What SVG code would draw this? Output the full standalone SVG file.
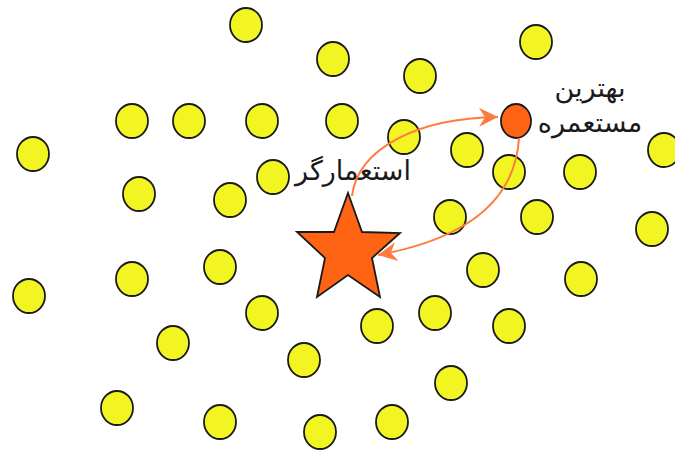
<svg xmlns="http://www.w3.org/2000/svg" width="675" height="450" viewBox="0 0 675 450">
<style>
.c{fill:#f2f522;stroke:#1a1a1a;stroke-width:1.8}
.o{fill:#ff6414;stroke:#1a1a1a;stroke-width:1.8}
.a{fill:none;stroke:#ff7a3d;stroke-width:2}
.t{font-family:"DejaVu Sans",sans-serif;font-size:27px;fill:#1a1a1a;text-anchor:middle}
</style>
<defs>
<marker id="ah" markerUnits="userSpaceOnUse" markerWidth="22" markerHeight="22" viewBox="-20 -11 22 22" refX="0" refY="0" orient="auto">
<path d="M0,0 L-19,-9.5 L-13,0 L-19,9.5 Z" fill="#ff7a3d"/>
</marker>
</defs>
<g id="population">
<ellipse class="c" cx="246" cy="25" rx="16" ry="17"/>
<ellipse class="c" cx="333" cy="59" rx="16" ry="17"/>
<ellipse class="c" cx="420" cy="76" rx="16" ry="17"/>
<ellipse class="c" cx="536" cy="42" rx="16" ry="17"/>
<ellipse class="c" cx="132" cy="121" rx="16" ry="17"/>
<ellipse class="c" cx="189" cy="121" rx="16" ry="17"/>
<ellipse class="c" cx="262" cy="121" rx="16" ry="17"/>
<ellipse class="c" cx="342" cy="121" rx="16" ry="17"/>
<ellipse class="c" cx="404" cy="137" rx="16" ry="17"/>
<ellipse class="c" cx="33" cy="154" rx="16" ry="17"/>
<ellipse class="c" cx="139" cy="194" rx="16" ry="17"/>
<ellipse class="c" cx="230" cy="200" rx="16" ry="17"/>
<ellipse class="c" cx="273" cy="177" rx="16" ry="17"/>
<ellipse class="c" cx="467" cy="150" rx="16" ry="17"/>
<ellipse class="c" cx="509" cy="172" rx="16" ry="17"/>
<ellipse class="c" cx="580" cy="172" rx="16" ry="17"/>
<ellipse class="c" cx="664" cy="150" rx="16" ry="17"/>
<ellipse class="c" cx="450" cy="217" rx="16" ry="17"/>
<ellipse class="c" cx="537" cy="217" rx="16" ry="17"/>
<ellipse class="c" cx="652" cy="229" rx="16" ry="17"/>
<ellipse class="c" cx="220" cy="267" rx="16" ry="17"/>
<ellipse class="c" cx="132" cy="279" rx="16" ry="17"/>
<ellipse class="c" cx="29" cy="296" rx="16" ry="17"/>
<ellipse class="c" cx="483" cy="270" rx="16" ry="17"/>
<ellipse class="c" cx="581" cy="279" rx="16" ry="17"/>
<ellipse class="c" cx="262" cy="313" rx="16" ry="17"/>
<ellipse class="c" cx="377" cy="326" rx="16" ry="17"/>
<ellipse class="c" cx="435" cy="313" rx="16" ry="17"/>
<ellipse class="c" cx="509" cy="326" rx="16" ry="17"/>
<ellipse class="c" cx="173" cy="343" rx="16" ry="17"/>
<ellipse class="c" cx="304" cy="360" rx="16" ry="17"/>
<ellipse class="c" cx="451" cy="383" rx="16" ry="17"/>
<ellipse class="c" cx="117" cy="408" rx="16" ry="17"/>
<ellipse class="c" cx="220" cy="422" rx="16" ry="17"/>
<ellipse class="c" cx="320" cy="432" rx="16" ry="17"/>
<ellipse class="c" cx="392" cy="422" rx="16" ry="17"/>
</g>
<g id="imperialist">
<polygon class="o" points="348,193 362,232 400,233 372,258 380,297 348,275 317,297 325,258 297,232 334,232"/>
<text class="t" x="353" y="180">استعمارگر</text>
</g>
<g id="best-colony">
<ellipse class="o" cx="516" cy="121" rx="15" ry="17"/>
<text class="t" x="590" y="97">بهترین</text>
<text class="t" x="590" y="132">مستعمره</text>
</g>
<g id="connectors">
<path class="a" d="M352,196 C358,148 418,118 498,117" marker-end="url(#ah)"/>
<path class="a" d="M519,138 C515,205 460,240 378,255" marker-end="url(#ah)"/>
</g>
</svg>
